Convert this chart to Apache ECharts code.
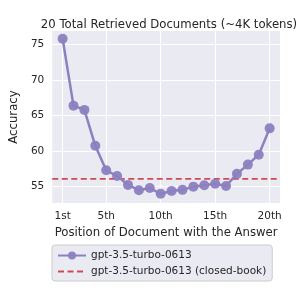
<!DOCTYPE html>
<html>
<head>
<meta charset="utf-8">
<script src="https://cdn.jsdelivr.net/npm/echarts@6/dist/echarts.min.js"></script>
<style>
  html, body { margin: 0; padding: 0; background: #fff; }
  #chart { width: 305px; height: 292px; }
</style>
</head>
<body>
<div id="chart"></div>
<script>
  // positions of the answer document
  var positions = [1, 2, 3, 4, 5, 6, 7, 8, 9, 10, 11, 12, 13, 14, 15, 16, 17, 18, 19, 20];
  var accuracy = [75.8, 66.4, 65.8, 60.75, 57.3, 56.5, 55.25, 54.5, 54.8, 54.0,
                  54.4, 54.55, 55.0, 55.2, 55.4, 55.1, 56.8, 58.1, 59.5, 63.2];
  var closedBook = 56.1;
  var tickPositions = [1, 5, 10, 15, 20];
  var tickNames = { 1: '1st', 5: '5th', 10: '10th', 15: '15th', 20: '20th' };
  var yTicks = [55, 60, 65, 70, 75];
  var xMin = 0.05, xMax = 20.95;

  var font = 'DejaVu Sans';
  var myChart = echarts.init(document.getElementById('chart'));

  var lineData = positions.map(function (p, i) { return [p, accuracy[i]]; });

  myChart.setOption({
    animation: false,
    title: {
      text: '20 Total Retrieved Documents (~4K tokens)',
      left: 164,
      textAlign: 'center',
      top: 14,
      textStyle: { fontFamily: font, fontSize: 11.7, fontWeight: 'normal', color: '#262626' }
    },
    grid: {
      left: 48,
      right: 25,
      top: 31,
      bottom: 89,
      containLabel: false,
      show: true,
      backgroundColor: '#EAEAF2',
      borderWidth: 0
    },
    xAxis: {
      type: 'value',
      min: xMin,
      max: xMax,
      name: 'Position of Document with the Answer',
      nameLocation: 'middle',
      nameGap: 22,
      nameTextStyle: { fontFamily: font, fontSize: 11.7, color: '#262626' },
      axisLine: { show: false },
      axisTick: { show: false, customValues: tickPositions },
      axisLabel: {
        customValues: tickPositions,
        fontFamily: font, fontSize: 10.5, color: '#262626', margin: 8,
        formatter: function (v) { return tickNames[v] || ''; }
      },
      splitLine: { show: true, lineStyle: { color: '#ffffff', width: 1 } }
    },
    yAxis: {
      type: 'value',
      min: 52.7,
      max: 76.9,
      name: 'Accuracy',
      nameLocation: 'middle',
      nameGap: 27,
      nameTextStyle: { fontFamily: font, fontSize: 11.7, color: '#262626' },
      axisLine: { show: false },
      axisTick: { show: false, customValues: yTicks },
      axisLabel: {
        customValues: yTicks,
        fontFamily: font, fontSize: 10.5, color: '#262626', margin: 8
      },
      splitLine: { show: true, lineStyle: { color: '#ffffff', width: 1 } }
    },
    legend: {
      orient: 'vertical',
      left: 52,
      top: 245,
      backgroundColor: '#EAEAF2',
      borderColor: '#cccccc',
      borderWidth: 1,
      borderRadius: 3,
      padding: [5, 6, 4, 5],
      itemGap: 5,
      itemWidth: 28,
      itemHeight: 10,
      textStyle: { fontFamily: font, fontSize: 10.5, color: '#262626' },
      data: ['gpt-3.5-turbo-0613', 'gpt-3.5-turbo-0613 (closed-book)']
    },
    series: [
      {
        name: 'gpt-3.5-turbo-0613 (closed-book)',
        type: 'line',
        data: [[xMin, closedBook], [xMax, closedBook]],
        symbol: 'none',
        lineStyle: { color: '#cf4a50', width: 1.6, type: [6, 3.5] },
        itemStyle: { color: '#cf4a50', opacity: 0 },
        z: 1
      },
      {
        name: 'gpt-3.5-turbo-0613',
        type: 'line',
        data: lineData,
        symbol: 'circle',
        symbolSize: 10,
        lineStyle: { color: '#8d80c0', width: 2.5 },
        itemStyle: { color: '#8d80c0', opacity: 0.95 },
        z: 3
      }
    ]
  });
  window.addEventListener('resize', function () { myChart.resize(); });
</script>
</body>
</html>
